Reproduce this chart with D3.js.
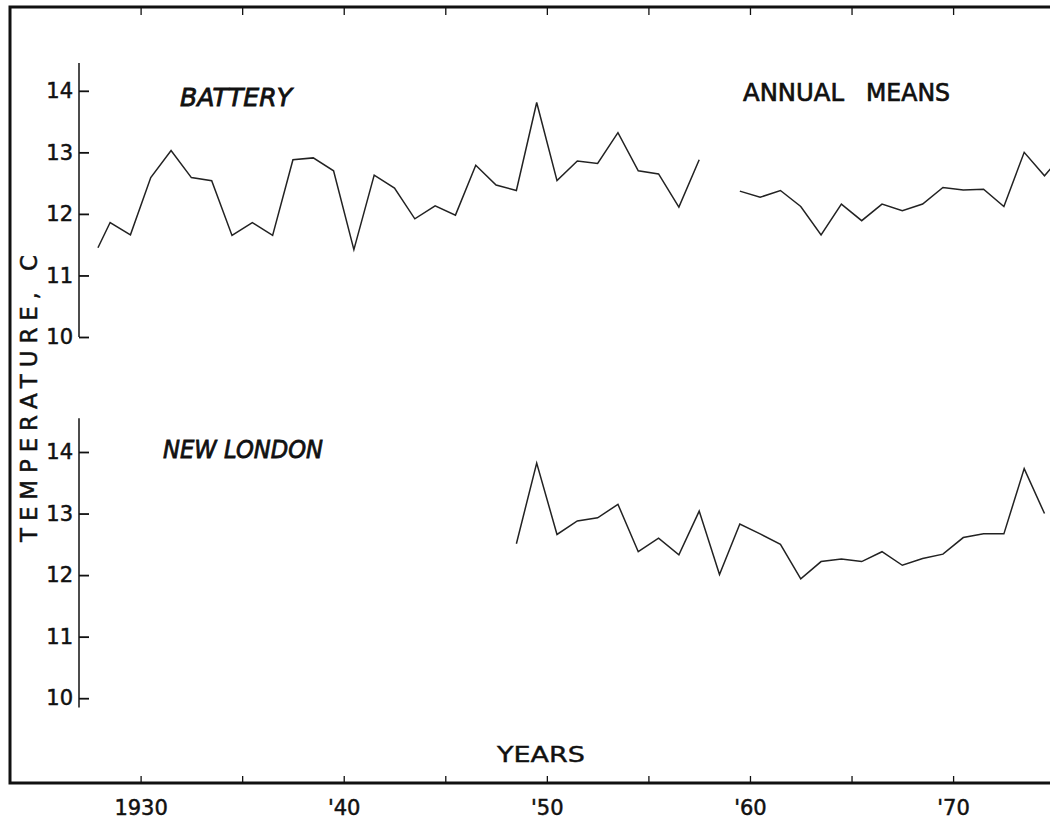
<!DOCTYPE html>
<html>
<head>
<meta charset="utf-8">
<script src="https://cdn.jsdelivr.net/npm/d3@7"></script>
<style>
  html, body { margin: 0; padding: 0; background: #fff; }
  svg { display: block; }
  text { font-family: "DejaVu Sans", "Liberation Sans", sans-serif; fill: #111; stroke: #111; stroke-width: 0.5; }
</style>
</head>
<body>
<svg id="chart" width="1050" height="819"></svg>
<script>
// ---- Data (annual means, plotted at mid-year) ----
const battYears = [1927.9, 1928.5, 1929.5, 1930.5, 1931.5, 1932.5, 1933.5, 1934.5, 1935.5, 1936.5,
  1937.5, 1938.5, 1939.5, 1940.5, 1941.5, 1942.5, 1943.5, 1944.5, 1945.5, 1946.5,
  1947.5, 1948.5, 1949.5, 1950.5, 1951.5, 1952.5, 1953.5, 1954.5, 1955.5, 1956.5,
  1957.5, 1958.5, 1959.5, 1960.5, 1961.5, 1962.5, 1963.5, 1964.5, 1965.5, 1966.5,
  1967.5, 1968.5, 1969.5, 1970.5, 1971.5, 1972.5, 1973.5, 1974.5, 1975.5];
const battTemps = [11.45, 11.86, 11.66, 12.59, 13.03, 12.59, 12.54, 11.65, 11.86, 11.65,
  12.88, 12.91, 12.70, 11.42, 12.63, 12.42, 11.92, 12.13, 11.98, 12.79,
  12.47, 12.38, 13.81, 12.54, 12.86, 12.82, 13.32, 12.70, 12.65, 12.11,
  12.88, null, 12.37, 12.27, 12.38, 12.12, 11.66, 12.16, 11.89, 12.16,
  12.05, 12.16, 12.43, 12.39, 12.40, 12.12, 13.00, 12.62, 13.00];

const nlYears = [1948.5, 1949.5, 1950.5, 1951.5, 1952.5, 1953.5, 1954.5, 1955.5, 1956.5, 1957.5,
  1958.5, 1959.5, 1960.5, 1961.5, 1962.5, 1963.5, 1964.5, 1965.5, 1966.5, 1967.5,
  1968.5, 1969.5, 1970.5, 1971.5, 1972.5, 1973.5, 1974.5];
const nlTemps = [12.51, 13.82, 12.66, 12.88, 12.93, 13.15, 12.38, 12.60, 12.33, 13.04,
  12.01, 12.83, 12.67, 12.50, 11.94, 12.22, 12.26, 12.22, 12.38, 12.16,
  12.27, 12.34, 12.61, 12.67, 12.67, 13.73, 13.00];

const tempTicks = [10, 11, 12, 13, 14];
const yearTicks = [1930, 1935, 1940, 1945, 1950, 1955, 1960, 1965, 1970, 1975];
const yearLabels = {1930: "1930", 1940: "'40", 1950: "'50", 1960: "'60", 1970: "'70"};

// ---- Layout ----
const svg = d3.select("#chart");
const frame = {left: 10, top: 7, bottom: 783, right: 1120};
const axisX = 79;

const x = d3.scaleLinear().domain([1930, 1970]).range([140.6, 953.1]);
const yTop = d3.scaleLinear().domain([10, 14]).range([337.0, 90.8]);
const yBot = d3.scaleLinear().domain([10, 14]).range([698.2, 452.0]);

// Frame
svg.append("rect")
  .attr("x", frame.left).attr("y", frame.top)
  .attr("width", frame.right - frame.left).attr("height", frame.bottom - frame.top)
  .attr("fill", "none").attr("stroke", "#111").attr("stroke-width", 3);

// Bottom axis (ticks inward)
const xb = svg.append("g").attr("transform", `translate(0,${frame.bottom})`)
  .call(d3.axisBottom(x).tickValues(yearTicks).tickSize(-7).tickSizeOuter(0)
    .tickPadding(17).tickFormat(d => yearLabels[d] || ""));
xb.select(".domain").remove();
xb.selectAll("line").attr("stroke", "#111").attr("stroke-width", 1.3);
xb.selectAll("text").attr("font-size", 21).attr("fill", "#111");

// Top axis (ticks inward, no labels)
const xt = svg.append("g").attr("transform", `translate(0,${frame.top})`)
  .call(d3.axisTop(x).tickValues(yearTicks).tickSize(-8).tickSizeOuter(0).tickFormat(""));
xt.select(".domain").remove();
xt.selectAll("line").attr("stroke", "#111").attr("stroke-width", 1.3);

// Y axes
function yAxis(scale, lo, hi) {
  const g = svg.append("g").attr("transform", `translate(${axisX},0)`)
    .call(d3.axisLeft(scale).tickValues(tempTicks).tickSize(-10).tickSizeOuter(0)
      .tickPadding(6).tickFormat(d3.format("d")));
  g.select(".domain").remove();
  g.append("line").attr("x1", 0).attr("x2", 0)
    .attr("y1", scale(hi)).attr("y2", scale(lo))
    .attr("stroke", "#111").attr("stroke-width", 1.5);
  g.selectAll(".tick line").attr("stroke", "#111").attr("stroke-width", 1.8);
  g.selectAll("text").attr("font-size", 21).attr("fill", "#111");
}
yAxis(yTop, 10, 14.45);
yAxis(yBot, 9.85, 14.55);

// Lines
function drawLine(years, temps, scale) {
  const pts = years.map((yr, i) => ({yr, t: temps[i]}));
  const line = d3.line()
    .defined(d => d.t !== null)
    .x(d => x(d.yr)).y(d => scale(d.t));
  svg.append("path").datum(pts)
    .attr("d", line)
    .attr("fill", "none").attr("stroke", "#222")
    .attr("stroke-width", 1.5).attr("stroke-linejoin", "miter");
}
drawLine(battYears, battTemps, yTop);
drawLine(nlYears, nlTemps, yBot);

// Labels
function label(txt, xx, yy, len, size, italic, sw) {
  return svg.append("text").attr("x", xx).attr("y", yy)
    .attr("font-size", size)
    .attr("font-style", italic ? "italic" : "normal")
    .attr("textLength", len).attr("lengthAdjust", "spacingAndGlyphs")
    .style("stroke-width", sw)
    .text(txt);
}
label("BATTERY", 180, 106, 112, 24, true, 0.8);
label("NEW LONDON", 163, 458, 160, 24, true, 0.8);
label("ANNUAL", 743, 100.7, 101, 25, false, 0.7);
label("MEANS", 866, 100.7, 84, 25, false, 0.7);
label("YEARS", 497, 762, 88, 21, false, 0.4);

svg.append("text")
  .attr("transform", "translate(36.5,398.5) rotate(-90)")
  .attr("text-anchor", "middle")
  .attr("font-size", 23)
  .attr("textLength", 287).attr("lengthAdjust", "spacing")
  .text("TEMPERATURE, C");
</script>
</body>
</html>
